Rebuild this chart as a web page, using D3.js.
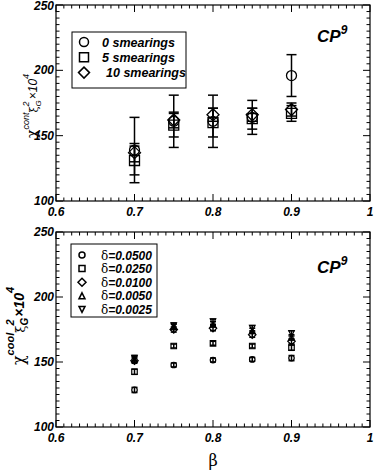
<!DOCTYPE html>
<html>
<head>
<meta charset="utf-8">
<script src="https://cdn.jsdelivr.net/npm/d3@7"></script>
<style>
  body { margin: 0; background: #fff; }
  svg { display: block; }
  text { font-family: "Liberation Sans", Arial, sans-serif; }
</style>
</head>
<body>
<svg id="chart" width="374" height="473"></svg>
<script>
// Beta values (shared by both panels)
var betas = [0.7, 0.75, 0.8, 0.85, 0.9];

// Top panel: chi^cont xi_G^2 x 10^4 for several smearings
var smear0 = [139, 161, 161, 164, 196];
var smear0Err = [25, 20, 20, 13, 16];
var smear5 = [131, 158, 160, 163, 167];
var smear5Err = [11, 9, 11, 8, 6];
var smear10 = [137, 162, 166, 166, 170];
var smear10Err = [7, 6, 5, 5, 5];

// Bottom panel: chi^cool xi_G^2 x 10^4 for several deltas
var d0500 = [128.5, 147.7, 151.5, 152, 153];
var d0500Err = [2, 1.5, 1.5, 1.5, 2];
var d0250 = [142.5, 162.3, 164.4, 162.3, 161];
var d0250Err = [2, 1.5, 1.5, 1.5, 2];
var d0100 = [151, 175, 176, 171, 166];
var d0100Err = [2, 2, 2, 2, 2];
var d0050 = [152, 177, 179, 174, 169];
var d0050Err = [2, 2, 2, 2, 2];
var d0025 = [153, 178, 181, 176, 172];
var d0025Err = [2, 2, 2, 2, 2];

var xTicks = [0.6, 0.7, 0.8, 0.9, 1.0];
var yTicks = [100, 150, 200, 250];

var svg = d3.select('#chart');

// Symbol path for a marker type at size s
var markerPath = function(type, s){
  var h = s / 2;
  if (type == 'square') return 'M' + (-h) + ',' + (-h) + 'H' + h + 'V' + h + 'H' + (-h) + 'Z';
  if (type == 'diamond') return 'M0,' + (-h - 1) + 'L' + (h + 1) + ',0L0,' + (h + 1) + 'L' + (-h - 1) + ',0Z';
  if (type == 'triangle') return 'M0,' + (-h) + 'L' + h + ',' + h + 'L' + (-h) + ',' + h + 'Z';
  if (type == 'triangleDown') return 'M0,' + h + 'L' + h + ',' + (-h) + 'L' + (-h) + ',' + (-h) + 'Z';
};

var drawMarker = function(g, type, s, sw){
  if (type == 'circle') {
    g.append('circle').attr('r', s / 2).attr('fill', 'none')
      .attr('stroke', '#000').attr('stroke-width', sw);
  } else {
    g.append('path').attr('d', markerPath(type, s)).attr('fill', 'none')
      .attr('stroke', '#000').attr('stroke-width', sw);
  }
};

var makePanel = function(opts){
  var x = d3.scaleLinear().domain([0.6, 1.0]).range([56, 370]);
  var y = d3.scaleLinear().domain([100, 250]).range([opts.bottom, opts.top]);
  var g = svg.append('g');

  // frame
  g.append('rect')
    .attr('x', x(0.6)).attr('y', y(250))
    .attr('width', x(1.0) - x(0.6)).attr('height', y(100) - y(250))
    .attr('fill', 'none').attr('stroke', '#000').attr('stroke-width', 1.2);

  // inward ticks on all four sides
  var xMinor = d3.range(0.6, 1.0001, 0.01);
  var yMinor = d3.range(100, 250.01, 5);
  var tickG = g.append('g').attr('stroke', '#000').attr('stroke-width', 1);
  xMinor.forEach(function(v){
    var major = Math.abs(v * 10 - Math.round(v * 10)) < 1e-6;
    var len = major ? 7 : 3.5;
    tickG.append('line').attr('x1', x(v)).attr('x2', x(v))
      .attr('y1', y(100)).attr('y2', y(100) - len);
    tickG.append('line').attr('x1', x(v)).attr('x2', x(v))
      .attr('y1', y(250)).attr('y2', y(250) + len);
  });
  yMinor.forEach(function(v){
    var major = Math.abs(v % 50) < 1e-6;
    var len = major ? 7 : 3.5;
    tickG.append('line').attr('y1', y(v)).attr('y2', y(v))
      .attr('x1', x(0.6)).attr('x2', x(0.6) + len);
    tickG.append('line').attr('y1', y(v)).attr('y2', y(v))
      .attr('x1', x(1.0)).attr('x2', x(1.0) - len);
  });

  // tick labels
  g.selectAll('.xl').data(xTicks).enter().append('text')
    .attr('x', function(d){ return x(d); })
    .attr('y', y(100) + 15)
    .attr('text-anchor', 'middle')
    .style('font-size', '12px').style('font-weight', 'bold').style('font-style', 'italic')
    .text(function(d){ return d == 1 ? '1' : d3.format('.1f')(d); });
  g.selectAll('.yl').data(yTicks).enter().append('text')
    .attr('x', x(0.6) - 2)
    .attr('y', function(d){ return Math.max(y(d) + 4, 9.5); })
    .attr('text-anchor', 'end')
    .style('font-size', '12px').style('font-weight', 'bold').style('font-style', 'italic')
    .text(function(d){ return d; });

  // CP^9 label
  var cp = g.append('text')
    .attr('x', 317).attr('y', opts.top + opts.cpDy)
    .style('font-size', '17px').style('font-weight', 'bold').style('font-style', 'italic');
  cp.append('tspan').text('CP');
  cp.append('tspan').attr('dy', -8).style('font-size', '12px').text('9');

  // series: error bars then markers
  opts.series.forEach(function(s){
    var pts = betas.map(function(b, i){ return {b: b, v: s.values[i], e: s.errs[i]}; });
    var sg = g.append('g').attr('stroke', '#000');
    sg.selectAll('.eb').data(pts).enter().append('line')
      .attr('x1', function(d){ return x(d.b); }).attr('x2', function(d){ return x(d.b); })
      .attr('y1', function(d){ return y(d.v - d.e); }).attr('y2', function(d){ return y(d.v + d.e); })
      .attr('stroke-width', opts.ebWidth);
    [-1, 1].forEach(function(sign){
      sg.selectAll('.cap').data(pts).enter().append('line')
        .attr('x1', function(d){ return x(d.b) - opts.cap; }).attr('x2', function(d){ return x(d.b) + opts.cap; })
        .attr('y1', function(d){ return y(d.v + sign * d.e); }).attr('y2', function(d){ return y(d.v + sign * d.e); })
        .attr('stroke-width', opts.ebWidth);
    });
    pts.forEach(function(d){
      var mg = g.append('g').attr('transform', 'translate(' + x(d.b) + ',' + y(d.v) + ')');
      drawMarker(mg, s.type, opts.msize, opts.mstroke);
    });
  });

  // legend box
  var lg = g.append('g');
  lg.append('rect').attr('x', opts.legend.x).attr('y', opts.legend.y)
    .attr('width', opts.legend.w).attr('height', opts.legend.h)
    .attr('fill', '#fff').attr('stroke', '#000').attr('stroke-width', 1);
  opts.series.forEach(function(s, i){
    var ly = opts.legend.y + opts.legend.first + i * opts.legend.step;
    var mg = lg.append('g').attr('transform', 'translate(' + opts.legend.mx + ',' + ly + ')');
    drawMarker(mg, s.type, opts.legend.msize, 1.5);
    var t = lg.append('text').attr('x', opts.legend.tx + (s.dx || 0)).attr('y', ly + 4.5)
      .style('font-size', opts.legend.font + 'px').style('font-weight', 'bold').style('font-style', 'italic');
    if (s.greek) {
      t.append('tspan').style('font-family', '"DejaVu Serif", serif').style('font-weight', 'normal')
        .style('font-style', 'normal').text('\u03b4');
    }
    t.append('tspan').text(s.label);
  });

  return {x: x, y: y, g: g};
};

makePanel({
  top: 5, bottom: 201, cap: 5, ebWidth: 1.5, msize: 10, mstroke: 1.3, cpDy: 37,
  series: [
    {type: 'circle', values: smear0, errs: smear0Err, label: '0 smearings'},
    {type: 'square', values: smear5, errs: smear5Err, label: '5 smearings'},
    {type: 'diamond', values: smear10, errs: smear10Err, label: '10 smearings', dx: 4}
  ],
  legend: {x: 72, y: 32, w: 114, h: 56, mx: 84, tx: 102, first: 10, step: 15.3, msize: 9, font: 12.5}
});

makePanel({
  top: 232, bottom: 427, cap: 3, ebWidth: 1.5, msize: 5.5, mstroke: 1.2, cpDy: 41,
  series: [
    {type: 'circle', values: d0500, errs: d0500Err, label: '=0.0500', greek: true},
    {type: 'square', values: d0250, errs: d0250Err, label: '=0.0250', greek: true},
    {type: 'diamond', values: d0100, errs: d0100Err, label: '=0.0100', greek: true},
    {type: 'triangle', values: d0050, errs: d0050Err, label: '=0.0050', greek: true},
    {type: 'triangleDown', values: d0025, errs: d0025Err, label: '=0.0025', greek: true}
  ],
  legend: {x: 71, y: 244, w: 86, h: 73, mx: 82, tx: 101, first: 11, step: 13.6, msize: 6, font: 12}
});

// Y axis titles: pieces laid out along a rotated baseline
var yTitle = function(baseX, centerY, sup, o){
  var g = svg.append('g');
  var inner = g.append('g');
  var cursor = 0, lastStart = 0, lastW = 0;
  var pieces = [
    {t: '\u03c7', serif: true, size: o.main + 2, dy: 0},
    {t: sup, size: o.sup, dy: -o.supShift},
    {t: '\u03be', serif: true, size: o.main - 1, dy: 1},
    {t: '2', size: o.sup, dy: -o.supShift},
    {t: 'G', size: o.sup - 1, dy: o.subShift, stack: true},
    {t: '\u00d710', size: o.main, dy: 0, gap: 1},
    {t: '4', size: o.sup, dy: -o.supShift}
  ];
  pieces.forEach(function(p){
    var start = p.stack ? lastStart : cursor + (p.gap || 0);
    var t = inner.append('text').attr('x', start).attr('y', p.dy)
      .style('font-size', p.size + 'px')
      .style('font-weight', p.serif ? 'normal' : o.weight)
      .style('font-style', p.serif ? 'normal' : 'italic')
      .text(p.t);
    if (p.serif) t.style('font-family', '"DejaVu Serif", serif');
    var w = t.node().getComputedTextLength();
    if (p.stack) {
      cursor = Math.max(cursor, start + w);
    } else {
      cursor = start + w;
    }
    lastStart = start;
  });
  inner.attr('transform', 'translate(' + (-cursor / 2) + ',0)');
  g.attr('transform', 'translate(' + baseX + ',' + centerY + ') rotate(-90)');
};
yTitle(37, 106, 'cont', {main: 12, sup: 9, supShift: 8, subShift: 4, weight: 'normal'});
yTitle(24, 326, 'cool', {main: 14, sup: 11, supShift: 10, subShift: 4, weight: 'bold'});

// X axis title
svg.append('text').attr('x', 213).attr('y', 466).attr('text-anchor', 'middle')
  .style('font-family', '"DejaVu Serif", serif').style('font-size', '16px').text('\u03b2');
</script>
</body>
</html>
